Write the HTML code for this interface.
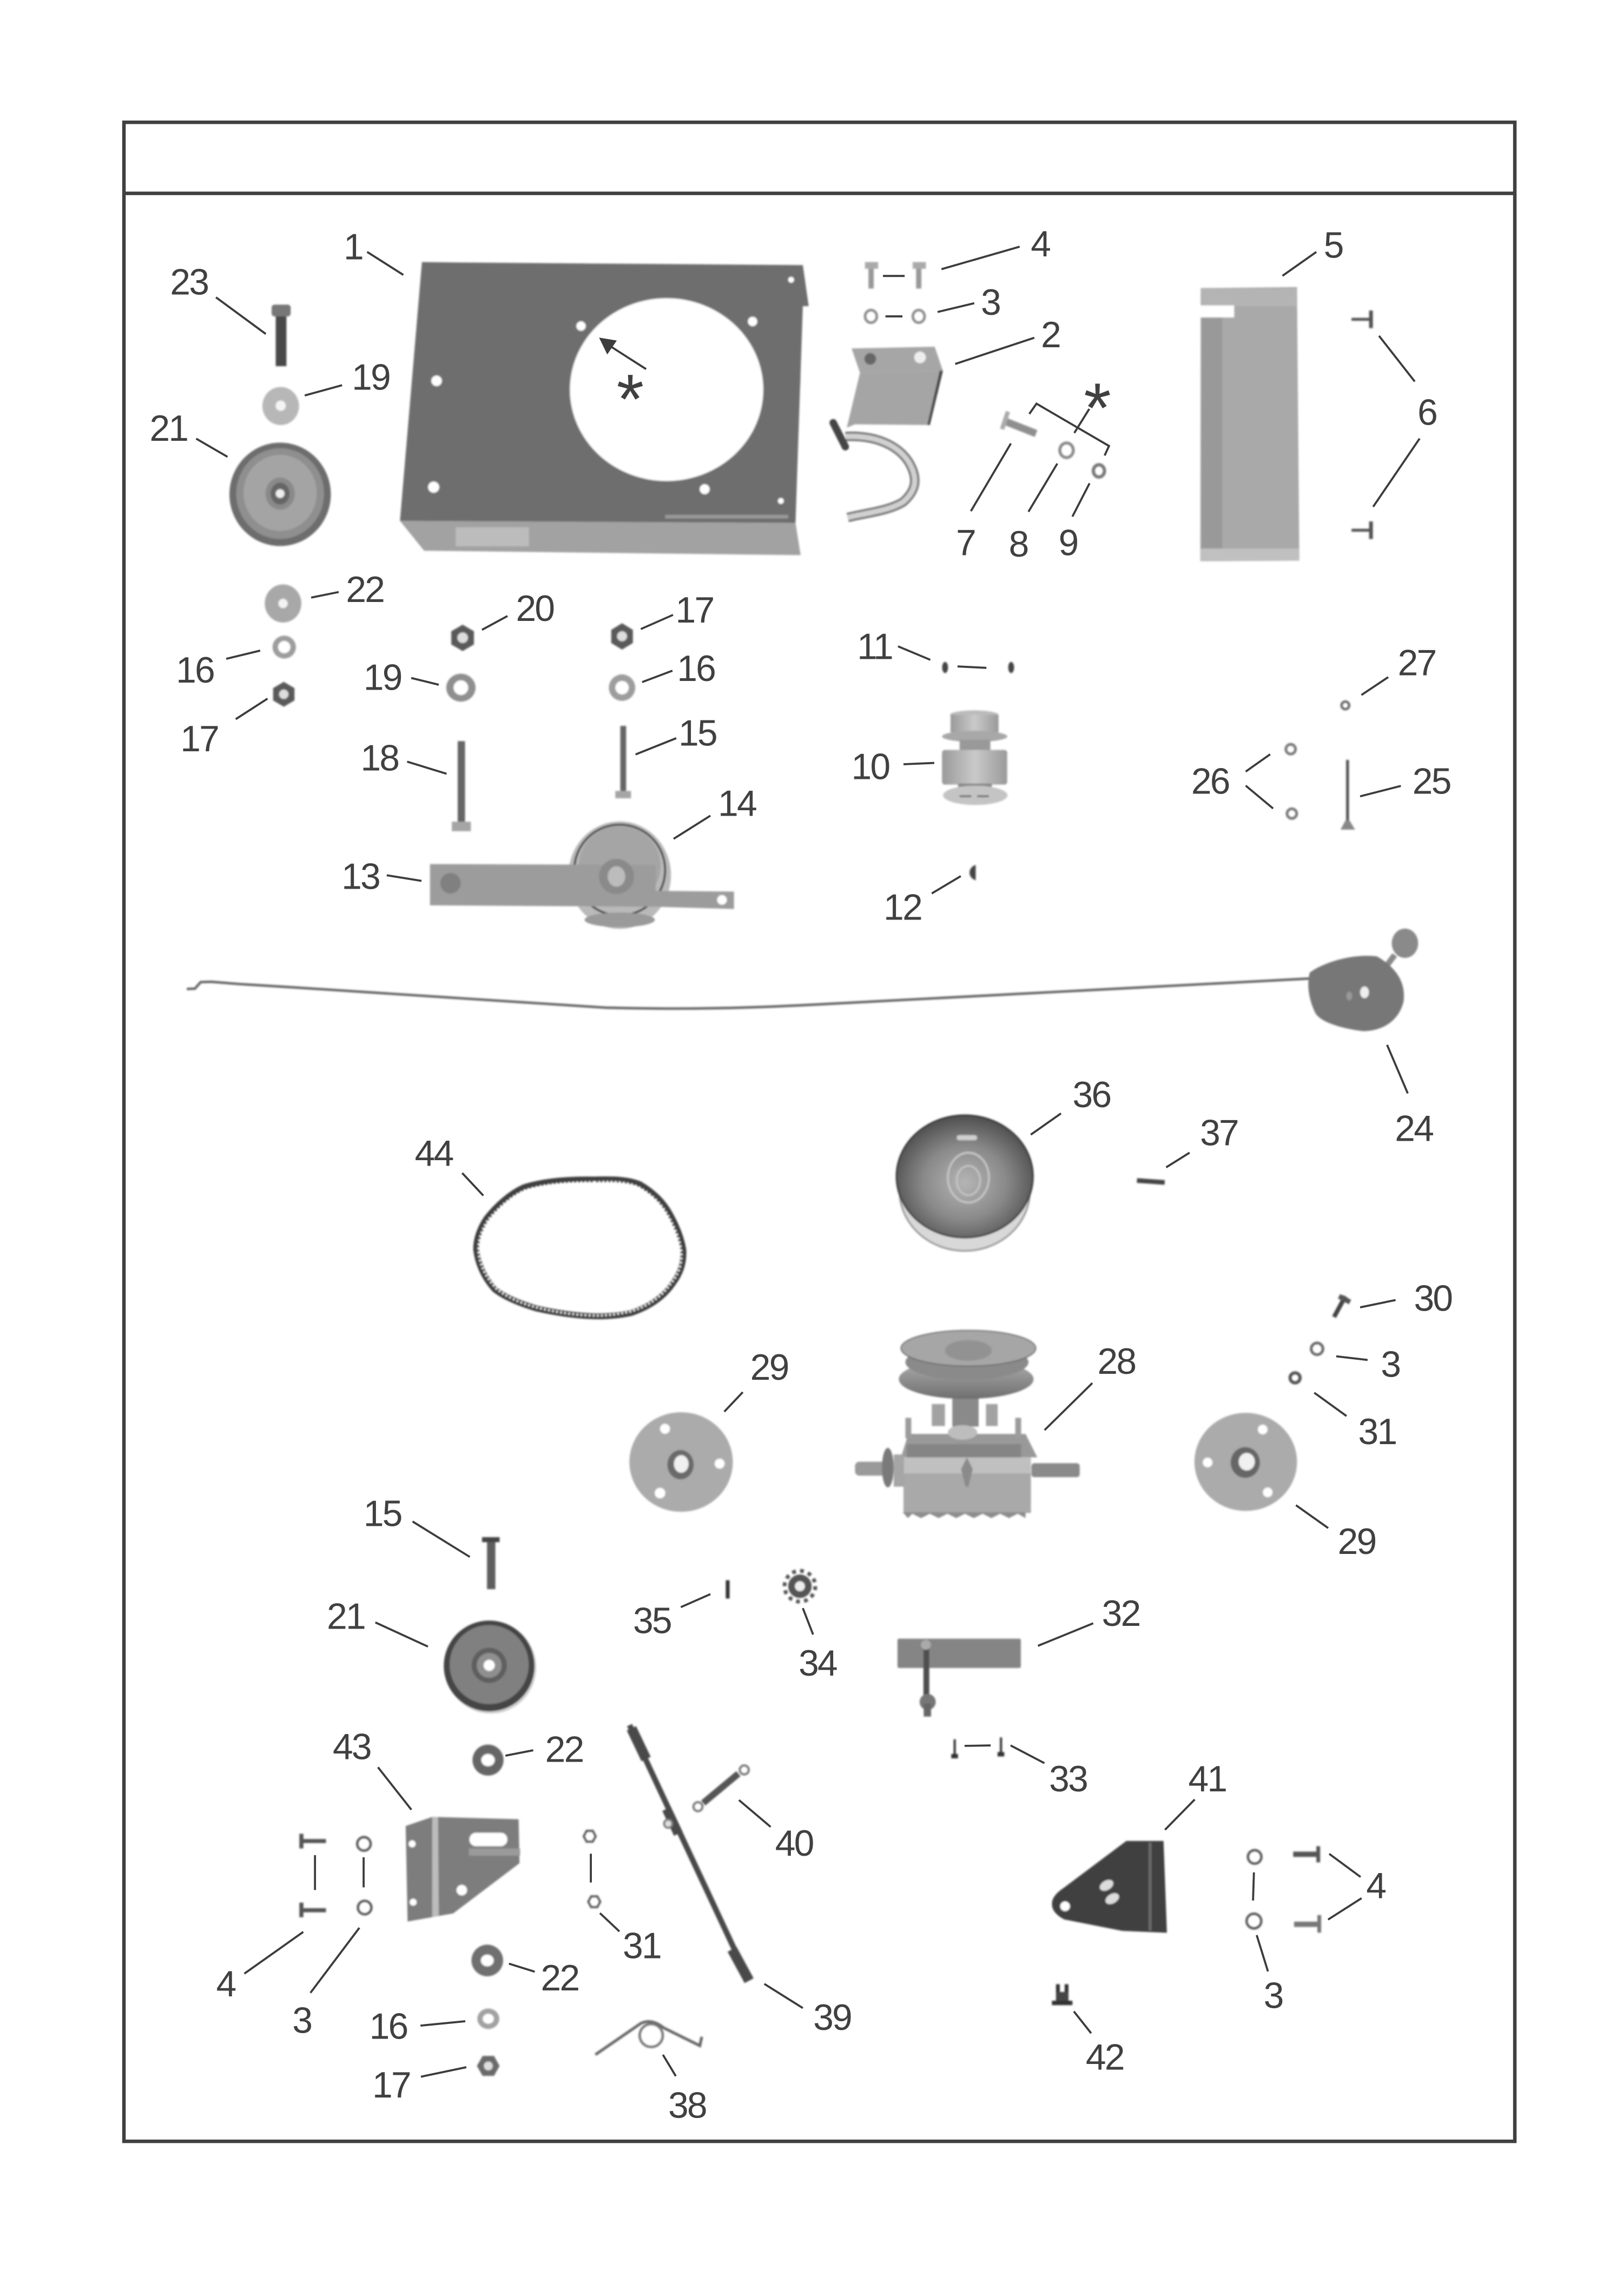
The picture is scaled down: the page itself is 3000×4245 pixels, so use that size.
<!DOCTYPE html>
<html><head><meta charset="utf-8"><title>Parts diagram</title>
<style>
html,body{margin:0;padding:0;background:#fff}
svg{display:block}
text{font-family:"Liberation Sans",sans-serif;font-size:25px;fill:#404040;text-anchor:middle;letter-spacing:-1px}
.st{font-size:48px;letter-spacing:0}
.l line,.l polyline{stroke:#3c3c3c;stroke-width:1.4;fill:none}
</style></head><body>
<svg xmlns="http://www.w3.org/2000/svg" width="3000" height="4245" viewBox="0 0 1107.83 1567.6">
<defs>
<filter id="b" x="-5%" y="-5%" width="110%" height="110%"><feGaussianBlur stdDeviation="0.55"/></filter>
<radialGradient id="g36" cx="50%" cy="55%" r="55%"><stop offset="0" stop-color="#b5b5b5"/><stop offset=".55" stop-color="#8a8a8a"/><stop offset="1" stop-color="#4f4f4f"/></radialGradient>
<linearGradient id="gm" x1="0" x2="1" y1="0" y2="0"><stop offset="0" stop-color="#9a9a9a"/><stop offset=".5" stop-color="#cacaca"/><stop offset="1" stop-color="#9a9a9a"/></linearGradient>
<linearGradient id="gp" x1="0" x2="0" y1="0" y2="1"><stop offset="0" stop-color="#b0b0b0"/><stop offset="1" stop-color="#6f6f6f"/></linearGradient>
</defs>
<rect width="1107.83" height="1567.6" fill="#fff"/>
<rect x="84.6" y="83.5" width="949.4" height="1378.5" fill="none" stroke="#404040" stroke-width="2.4"/>
<line x1="84.6" y1="132" x2="1034" y2="132" stroke="#404040" stroke-width="2.4"/>

<g filter="url(#b)">
<!-- part 1 -->
<polygon points="273,355.6 289.5,376 546.5,379 543,357" fill="#a2a2a2"/>
<rect x="311" y="360" width="50" height="13" fill="#bcbcbc"/>
<polygon points="288,179 548,181 552,209 548,209 543,357 273,355.6" fill="#6e6e6e"/>
<ellipse cx="455" cy="266" rx="66" ry="62.4" fill="#fff"/>
<rect x="454" y="351.5" width="84" height="2.5" fill="#999"/>
<g fill="#fff"><circle cx="396.6" cy="222.6" r="3.2"/><circle cx="513.7" cy="219.5" r="3.2"/><circle cx="298" cy="260" r="3.6"/><circle cx="296" cy="332.6" r="3.8"/><circle cx="481" cy="334" r="3.4"/><circle cx="540" cy="191" r="2"/><circle cx="533" cy="342" r="2"/></g>
<!-- 23 -->
<rect x="188.2" y="212" width="7.3" height="38" fill="#4a4a4a"/><rect x="185.4" y="208" width="13" height="8" rx="2" fill="#777"/>
<!-- washers left column -->
<ellipse cx="191.6" cy="277.2" rx="12.5" ry="13" fill="#b7b7b7"/><circle cx="191.6" cy="277" r="3.5" fill="#f4f4f4"/>
<ellipse cx="191.2" cy="337.5" rx="34.6" ry="35.3" fill="#6d6d6d"/><ellipse cx="191.2" cy="337" rx="30" ry="31" fill="#8f8f8f"/><ellipse cx="191.2" cy="336.5" rx="25" ry="26" fill="#a4a4a4"/><ellipse cx="191.2" cy="337" rx="10" ry="11" fill="#8a8a8a"/><ellipse cx="191.2" cy="337" rx="6.5" ry="7.5" fill="#666"/><circle cx="191.2" cy="337" r="3" fill="#eee"/>
<ellipse cx="193.2" cy="412" rx="12.5" ry="13" fill="#a8a8a8"/><circle cx="193.2" cy="412" r="3.2" fill="#f4f4f4"/>
<ellipse cx="194" cy="441.8" rx="8" ry="7.8" fill="#9d9d9d"/><circle cx="194" cy="441.8" r="4.2" fill="#fff"/>
<polygon points="193.7,465.5 201,469.8 201,478.2 193.7,482.5 186.4,478.2 186.4,469.8" fill="#5a5a5a"/><circle cx="193.7" cy="474" r="3.2" fill="#ddd"/>
<polygon points="315.8,426.5 323.5,431 323.5,440 315.8,444.5 308,440 308,431" fill="#5a5a5a"/><circle cx="315.8" cy="435.4" r="3.6" fill="#ddd"/>
<ellipse cx="314.6" cy="469.5" rx="10" ry="9.5" fill="#8f8f8f"/><circle cx="314.6" cy="469.5" r="5" fill="#fff"/>
<polygon points="424.6,425.5 432,430 432,439 424.6,443.5 417.2,439 417.2,430" fill="#5a5a5a"/><circle cx="424.6" cy="434.4" r="3.4" fill="#ddd"/>
<ellipse cx="424.6" cy="469.5" rx="9" ry="9" fill="#9d9d9d"/><circle cx="424.6" cy="469.5" r="4.6" fill="#fff"/>
<!-- 18 15 -->
<rect x="312.4" y="506" width="5" height="57" fill="#666"/><rect x="308.4" y="561" width="13" height="6.5" fill="#a5a5a5"/>
<rect x="423.4" y="495.6" width="4" height="46" fill="#666"/><rect x="420" y="540" width="10.7" height="5" fill="#a5a5a5"/>
<!-- 14 13 -->
<ellipse cx="423" cy="597.5" rx="35" ry="36.7" fill="#b9b9b9"/><ellipse cx="423" cy="594" rx="31" ry="31" fill="none" stroke="#444" stroke-width="1.4"/><ellipse cx="423" cy="591" rx="28" ry="27" fill="#a5a5a5"/>
<ellipse cx="423" cy="628" rx="24" ry="5" fill="#9a9a9a"/>
<polygon points="293.5,589.9 447.5,590.5 447.5,608.2 501,608.7 501,620.6 447.5,619.1 293.5,618.1" fill="#9c9c9c"/>
<circle cx="492.8" cy="614.4" r="3.3" fill="#fff"/><circle cx="307.5" cy="603" r="7" fill="#808080"/><ellipse cx="420.8" cy="598.4" rx="12" ry="12" fill="#8a8a8a"/><ellipse cx="420.8" cy="598.4" rx="6" ry="7" fill="#bcbcbc"/>
<!-- 4 3 -->
<g fill="#999"><rect x="592.8" y="183" width="3.6" height="14"/><rect x="625.3" y="183" width="3.6" height="14"/><rect x="590.4" y="179" width="9" height="4.5" fill="#aaa"/><rect x="623" y="179" width="9" height="4.5" fill="#aaa"/></g>
<g fill="none" stroke="#888" stroke-width="1.7"><ellipse cx="594.5" cy="216" rx="4" ry="4.3"/><ellipse cx="627.1" cy="216" rx="4" ry="4.3"/></g>
<!-- part 2 -->
<path d="M577,298 C596,297 612,303 620,315 C628,328 624,336 616.5,342.7 C606,349 592,350 578.6,353.3" fill="none" stroke="#777" stroke-width="6.5"/>
<path d="M577,298 C596,297 612,303 620,315 C628,328 624,336 616.5,342.7 C606,349 592,350 578.6,353.3" fill="none" stroke="#d0d0d0" stroke-width="3.6"/>
<line x1="568.7" y1="288.6" x2="577" y2="305" stroke="#444" stroke-width="5" stroke-linecap="round"/>
<polygon points="581.3,237.9 638,236.7 643.6,253.2 587,254.5" fill="#a6a6a6"/><polygon points="587,254.5 643.6,253.2 634.7,290.2 583.6,289.7 578,292" fill="#a5a5a5"/>
<polygon points="643.6,253.2 634.7,290.2 633,290 641.5,253" fill="#444"/>
<circle cx="594" cy="245" r="4" fill="#666"/><circle cx="628" cy="244" r="4" fill="#eee"/>
<!-- 7 8 9 -->
<line x1="687" y1="288" x2="707.2" y2="296" stroke="#8f8f8f" stroke-width="5"/><line x1="688" y1="281" x2="684" y2="293" stroke="#aaa" stroke-width="3"/>
<ellipse cx="728" cy="307.4" rx="4.6" ry="5" fill="none" stroke="#888" stroke-width="2"/><ellipse cx="750.1" cy="321.5" rx="3.8" ry="4.2" fill="none" stroke="#777" stroke-width="2.2"/>
<!-- part 5 -->
<polygon points="819.6,196.7 885.3,196 886.9,382.8 819.3,383.2" fill="#a9a9a9"/>
<rect x="820" y="197" width="14.2" height="178" fill="#999"/>
<rect x="820" y="197" width="65" height="12" fill="#b4b4b4"/>
<polygon points="819.6,374.5 886.5,374.5 886.9,382.8 819.3,383.2" fill="#c0c0c0"/>
<rect x="819" y="208.5" width="23.4" height="8.2" fill="#fff"/>
<!-- 6 -->
<rect x="922.5" y="217" width="13" height="2" fill="#555"/><rect x="934.5" y="212" width="2.6" height="12" fill="#555"/>
<rect x="922.5" y="361" width="13" height="2" fill="#555"/><rect x="934.5" y="356" width="2.6" height="12" fill="#555"/>
<!-- 10 -->
<ellipse cx="665" cy="488" rx="16.5" ry="3" fill="#bbb"/><rect x="648.8" y="488" width="32.8" height="12" fill="url(#gm)"/>
<ellipse cx="665.3" cy="502.8" rx="22.3" ry="3.8" fill="#a8a8a8"/><rect x="655" y="505" width="21" height="8" fill="#999"/>
<rect x="643" y="512" width="44.5" height="23.7" rx="2" fill="url(#gm)"/><rect x="654" y="535" width="23" height="6" fill="#888"/>
<ellipse cx="665.7" cy="543" rx="22" ry="6.6" fill="#c4c4c4"/><rect x="655" y="543" width="8" height="1.2" fill="#666"/><rect x="667" y="543" width="8" height="1.2" fill="#666"/>
<ellipse cx="645.1" cy="455.7" rx="2" ry="3.8" fill="#444"/><ellipse cx="690.2" cy="455.7" rx="2" ry="3.8" fill="#444"/>
<path d="M666,590.5 A6,5.5 0 0 0 666,601 Z" fill="#444"/>
<circle cx="918.3" cy="481.6" r="2.6" fill="none" stroke="#666" stroke-width="1.6"/>
<circle cx="881" cy="511.5" r="3.3" fill="none" stroke="#777" stroke-width="1.8"/><circle cx="881.8" cy="555.5" r="3.3" fill="none" stroke="#777" stroke-width="1.8"/>
<rect x="918.8" y="518.8" width="2" height="44" fill="#555"/><polygon points="918.5,560 921,560 925,566.4 915,566.4" fill="#888"/>
<!-- 24 cable -->
<path d="M127.5,675.2 L133,675 L137,670.5 L144.3,670.3 L162.7,671.8 C250,677 340,684 413.8,688 C470,689.5 515,688 553.9,686 L893.8,668.1" fill="none" stroke="#666" stroke-width="1.7"/>
<ellipse cx="959" cy="644" rx="9" ry="10" fill="#8a8a8a"/><line x1="952" y1="652" x2="946" y2="660" stroke="#8a8a8a" stroke-width="4"/>
<path d="M894,664 C905,656 925,651 940,653 C952,660 960,670 958,684 C955,696 945,704 930,704 C915,702 902,698 898,692 C893,682 892,672 894,664 Z" fill="#777"/>
<ellipse cx="931.4" cy="677.5" rx="3" ry="4" fill="#eee"/><ellipse cx="921" cy="680" rx="2" ry="3" fill="#999"/>
<!-- 36 -->
<ellipse cx="658.5" cy="813" rx="44.5" ry="41" fill="#d8d8d8" stroke="#999" stroke-width="1.2"/>
<ellipse cx="658.5" cy="803.2" rx="46.6" ry="41.8" fill="url(#g36)" stroke="#333" stroke-width="1"/>
<ellipse cx="661" cy="804" rx="14" ry="17" fill="none" stroke="#c5c5c5" stroke-width="1.4"/><ellipse cx="661" cy="806" rx="8" ry="10" fill="none" stroke="#c5c5c5" stroke-width="1.2"/>
<rect x="653" y="775" width="14" height="3.5" rx="1.7" fill="#cfcfcf"/>
<!-- 37 -->
<rect x="776" y="805" width="19" height="3.2" fill="#444" transform="rotate(4 785 807)"/>
<!-- 44 belt -->
<path id="belt" d="M405.6,805.3 C418,805 428,805 436.7,808.5 C446,814 452,820 456.5,827.5 C462,837 465,845 466.4,853 C467,863 464,870 459.3,876.3 C452,887 441,893 431,896.4 C421,898.6 412,899 402.8,898.6 C390,898 378,896 366,893.3 C355,890 345,886 337.8,880.5 C330,872 326,862 325,853 C325,845 328,838 332.1,831.8 C339,823 348,815 357.6,810.6 C372,806 390,805 405.6,805.3 Z" fill="none" stroke="#3f3f3f" stroke-width="4"/>
<path d="M405.6,806.5 C418,806 428,806 436,810 C445,815 451,821 455.5,828.5 C461,838 464,846 465,853 C466,862 463,870 458,875.5 C451,886 440,892 430,895 C420,897 412,898 402.8,897.5 C390,897 378,895 366,892 C355,889 346,885 339,879.5 C331,871 327,862 326.5,853 C326.5,845 329,839 333,832.5 C340,824 349,816 358.5,812 C372,807.5 390,806.5 405.6,806.5 Z" fill="none" stroke="#fff" stroke-width="1.3" stroke-dasharray="1.2 1.6" transform="translate(0,0.6)"/>
<!-- 30 3 31 -->
<line x1="918.3" y1="885" x2="910.6" y2="899.2" stroke="#444" stroke-width="3"/>
<line x1="914" y1="885" x2="921.5" y2="889" stroke="#555" stroke-width="3.4"/>
<circle cx="899" cy="920.9" r="4" fill="none" stroke="#666" stroke-width="1.8"/>
<circle cx="884" cy="940.7" r="3.4" fill="none" stroke="#555" stroke-width="2.2"/>
<!-- 29 left -->
<ellipse cx="464.9" cy="998.2" rx="35.3" ry="34" fill="#ababab"/>
<g fill="#fff"><circle cx="453.9" cy="975.5" r="3.4"/><circle cx="491.2" cy="999.3" r="3.4"/><circle cx="450.5" cy="1019.4" r="3.6"/></g>
<ellipse cx="464.5" cy="1000" rx="9" ry="10" fill="#6a6a6a"/><ellipse cx="465" cy="999.5" rx="5" ry="6" fill="#f0f0f0"/>
<!-- 29 right -->
<ellipse cx="850.3" cy="998.1" rx="35" ry="33.5" fill="#ababab"/>
<g fill="#fff"><circle cx="861.9" cy="976" r="3.3"/><circle cx="824.3" cy="998.5" r="3.3"/><circle cx="865.3" cy="1018.9" r="3.3"/></g>
<ellipse cx="850" cy="998.5" rx="10" ry="10.5" fill="#666"/><ellipse cx="851" cy="998" rx="5.5" ry="6" fill="#f0f0f0"/>
<!-- 28 gearbox -->
<rect x="650" y="950" width="18" height="24" fill="#8a8a8a"/><rect x="636" y="958.6" width="9" height="15" fill="#a2a2a2"/><rect x="673" y="958.6" width="8" height="15" fill="#a2a2a2"/>
<ellipse cx="659.5" cy="941.6" rx="46" ry="13.5" fill="url(#gp)"/><ellipse cx="660" cy="930" rx="42" ry="12" fill="#8a8a8a"/><ellipse cx="661" cy="920.5" rx="46" ry="12.2" fill="#a6a6a6" stroke="#666" stroke-width=".7"/><ellipse cx="661" cy="922" rx="16" ry="7" fill="#929292"/>
<polygon points="620,979 700,979 708,995 615,995" fill="#999"/>
<rect x="618" y="968" width="4" height="14" fill="#9c9c9c"/><rect x="693" y="968" width="4" height="14" fill="#9c9c9c"/><ellipse cx="657" cy="978" rx="10" ry="5" fill="#bdbdbd"/>
<rect x="619" y="986" width="78" height="10" fill="#858585"/>
<rect x="616.7" y="995" width="87" height="12" fill="#c0c0c0"/>
<rect x="616.7" y="1006" width="87" height="27" fill="#a9a9a9"/>
<path d="M616.7,1033 l3,3.5 l3,-3 l6,3 l6,-3 l6,3 l6,-3 l6,3 l6,-3 l6,3 l6,-3 l6,3 l6,-3 l6,3 l6,-3 l5.3,3 v-4 h-84 z" fill="#8d8d8d"/>
<rect x="704" y="999" width="33" height="9.5" rx="2" fill="#8a8a8a"/>
<rect x="583.6" y="998" width="24" height="9.5" rx="3" fill="#9a9a9a"/><ellipse cx="606" cy="1002" rx="4" ry="13.5" fill="#7a7a7a"/><rect x="610" y="993" width="7" height="22" fill="#a6a6a6"/>
<polygon points="656,1003 660,995 664,1003 661,1015 659,1015" fill="#8b8b8b"/>
<!-- 15 lower -->
<rect x="332.4" y="1052" width="5.7" height="33" fill="#5e5e5e"/><rect x="329" y="1049.5" width="12" height="3.4" fill="#444"/>
<!-- 21 lower -->
<ellipse cx="335" cy="1138.5" rx="31" ry="31.5" fill="#d0d0d0"/><ellipse cx="333.9" cy="1137.4" rx="31" ry="31" fill="#454545"/><ellipse cx="333.9" cy="1136.5" rx="27" ry="27" fill="#808080"/><ellipse cx="333.9" cy="1137" rx="12" ry="12" fill="#5e5e5e"/><ellipse cx="333.9" cy="1137" rx="8.5" ry="8.5" fill="#8f8f8f"/><circle cx="333.9" cy="1137" r="3.8" fill="#fff"/>
<!-- 22 -->
<circle cx="333.1" cy="1201.7" r="10.6" fill="#666"/><ellipse cx="333.1" cy="1201.7" rx="4.6" ry="4.2" fill="#fff"/>
<circle cx="332.6" cy="1338.5" r="10.8" fill="#707070"/><ellipse cx="332.6" cy="1338.5" rx="4.4" ry="4" fill="#fff"/>
<ellipse cx="333.3" cy="1378.3" rx="7.5" ry="7" fill="#a2a2a2"/><ellipse cx="333.3" cy="1378.3" rx="3.8" ry="3.4" fill="#fff"/>
<polygon points="325.5,1410.5 329.4,1403.7 337.2,1403.7 341,1410.5 337.2,1417.3 329.4,1417.3" fill="#6a6a6a"/><circle cx="333.3" cy="1410.5" r="3" fill="#ddd"/>
<!-- 43 bracket -->
<polygon points="276.9,1246.7 295,1240.5 354,1242.1 354.6,1272.1 309.3,1306.4 278.2,1311.9" fill="#7d7d7d"/>
<polygon points="295,1240.5 299,1240.6 299.5,1308 295,1309" fill="#bcbcbc"/>
<rect x="320.4" y="1251.3" width="25.9" height="9.2" rx="4.5" fill="#fff"/>
<rect x="320" y="1262" width="35" height="5" fill="#9a9a9a"/>
<g fill="#fff"><circle cx="281.3" cy="1258.9" r="2.4"/><circle cx="282" cy="1298.7" r="2.4"/><circle cx="315.2" cy="1290.5" r="3.6"/></g>
<!-- left bolts -->
<rect x="206" y="1255.6" width="16.5" height="2.8" fill="#555"/><rect x="204.3" y="1252" width="2.8" height="10" fill="#555"/>
<rect x="206" y="1302.8" width="16.5" height="2.8" fill="#555"/><rect x="204.3" y="1299" width="2.8" height="10" fill="#555"/>
<g fill="none" stroke="#555" stroke-width="1.6"><circle cx="248.4" cy="1258.9" r="4.6"/><circle cx="248.9" cy="1302.4" r="4.6"/></g>
<g fill="none" stroke="#555" stroke-width="1.4"><polygon points="398.4,1253.7 400.4,1250 404.6,1250 406.6,1253.7 404.6,1257.4 400.4,1257.4"/><polygon points="401.5,1298.4 403.5,1294.7 407.7,1294.7 409.7,1298.4 407.7,1302.1 403.5,1302.1"/></g>
<!-- 35 34 -->
<rect x="495.4" y="1078.9" width="2.6" height="12.5" fill="#333"/>
<circle cx="546" cy="1083" r="8" fill="#555"/><circle cx="546" cy="1083" r="10.5" fill="none" stroke="#555" stroke-width="2.6" stroke-dasharray="2.6 2.9"/><circle cx="546" cy="1083" r="3.4" fill="#eee"/>
<!-- 39 40 38 -->
<line x1="429.7" y1="1177.8" x2="511.3" y2="1352.3" stroke="#4a4a4a" stroke-width="3.8"/>
<line x1="431" y1="1180" x2="441" y2="1201" stroke="#4a4a4a" stroke-width="7"/><line x1="499.7" y1="1330.9" x2="511.3" y2="1352.3" stroke="#4a4a4a" stroke-width="7"/><line x1="455" y1="1235" x2="463" y2="1252" stroke="#4a4a4a" stroke-width="6.5"/>
<circle cx="456.1" cy="1245.1" r="2.8" fill="#ddd" stroke="#777" stroke-width="1.4"/>
<line x1="480" y1="1231" x2="504" y2="1211" stroke="#555" stroke-width="4.5"/>
<circle cx="476.4" cy="1233.5" r="3" fill="#fff" stroke="#777" stroke-width="1.6"/><circle cx="508" cy="1208.4" r="3" fill="#fff" stroke="#777" stroke-width="1.6"/>
<path d="M406.4,1402.8 L437.5,1381.4 Q445,1378 453,1384.5 L477.7,1396.7 L479,1390.6" fill="none" stroke="#666" stroke-width="1.9"/>
<circle cx="444.5" cy="1389.7" r="7.8" fill="#fff" stroke="#777" stroke-width="1.8"/>
<!-- 32 33 -->
<rect x="612.6" y="1118.8" width="84.2" height="20" rx="1" fill="#858585"/>
<rect x="630.3" y="1122.7" width="4" height="40" fill="#4f4f4f"/><circle cx="632" cy="1123" r="3.4" fill="#aaa"/>
<circle cx="633.2" cy="1162" r="5.5" fill="#777"/><rect x="630.5" y="1163" width="5" height="9" fill="#666"/>
<rect x="650.9" y="1187.5" width="1.5" height="11" fill="#333"/><rect x="649.3" y="1197.5" width="4.6" height="3" fill="#333"/>
<rect x="682.5" y="1186.2" width="1.5" height="11" fill="#333"/><rect x="680.9" y="1196.2" width="4.6" height="3" fill="#333"/>
<!-- 41 -->
<path d="M768.8,1256.9 L794.2,1256.9 L796.5,1319.6 L766,1318.3 L726.4,1310.5 Q716,1305 718.5,1297 Q720,1293 726,1289 Z" fill="#3f3f3f"/>
<rect x="784" y="1258" width="2" height="60" fill="#6c6c6c"/>
<circle cx="727" cy="1301.5" r="3.3" fill="#fff"/><ellipse cx="755.3" cy="1287.2" rx="5" ry="3.2" fill="#dcdcdc" transform="rotate(-30 755.3 1287.2)"/><ellipse cx="759.2" cy="1296.3" rx="5" ry="3.2" fill="#dcdcdc" transform="rotate(-30 759.2 1296.3)"/>
<g fill="none" stroke="#555" stroke-width="1.6"><circle cx="856.4" cy="1267.8" r="4.6"/><circle cx="855.9" cy="1311.6" r="5"/></g>
<rect x="882.7" y="1264.2" width="16" height="3.6" fill="#555"/><rect x="898.5" y="1260.5" width="2.6" height="11" fill="#555"/>
<rect x="883.3" y="1312" width="16" height="3.6" fill="#777"/><rect x="899.2" y="1307.5" width="2.6" height="12" fill="#777"/>
<rect x="720.8" y="1354.7" width="2.6" height="11.5" fill="#333"/><rect x="726.7" y="1354.7" width="2.6" height="11.5" fill="#333"/><rect x="721" y="1360" width="8" height="6" fill="#444"/><rect x="718" y="1366" width="14" height="3" fill="#333"/>
</g>

<!-- connector lines -->
<g class="l">
<line x1="250.6" y1="172" x2="275.3" y2="187.7"/><line x1="147.4" y1="203" x2="181.4" y2="228"/><line x1="208" y1="270" x2="233.5" y2="263"/><line x1="133.9" y1="299.5" x2="155.3" y2="311.9"/><line x1="212.4" y1="408" x2="231.2" y2="404.2"/>
<line x1="329" y1="430" x2="346.4" y2="420.6"/><line x1="437.4" y1="429.5" x2="459.4" y2="419.8"/><line x1="154.4" y1="449.8" x2="177.6" y2="444.2"/><line x1="280.7" y1="462.9" x2="299.5" y2="467.5"/><line x1="438.3" y1="465.7" x2="459" y2="457.9"/><line x1="160.9" y1="491" x2="182.6" y2="477"/><line x1="433.8" y1="515.1" x2="461.6" y2="504"/><line x1="277.9" y1="520" x2="304.8" y2="528.3"/><line x1="459.8" y1="572.7" x2="484.9" y2="556.9"/><line x1="264" y1="597.6" x2="287.7" y2="601.4"/>
<line x1="642.6" y1="183.8" x2="696" y2="168.4"/><line x1="602.7" y1="188.4" x2="617.5" y2="188.4"/><line x1="640" y1="213" x2="665" y2="207"/><line x1="604.4" y1="216" x2="616" y2="216"/><line x1="652" y1="248.5" x2="706" y2="230.6"/>
<polyline points="702.6,282.6 707.5,275.6 757,304.5 754,311"/><line x1="733.3" y1="295.6" x2="743.5" y2="279.2"/><line x1="662.7" y1="349" x2="690" y2="302.8"/><line x1="702" y1="349.4" x2="721.7" y2="316.5"/><line x1="732" y1="352.7" x2="743.7" y2="330"/>
<line x1="875.4" y1="188.3" x2="898.5" y2="172"/><line x1="941.3" y1="229.3" x2="965.7" y2="260.5"/><line x1="969" y1="299.4" x2="937.3" y2="346"/>
<line x1="613" y1="441.3" x2="635" y2="450.5"/><line x1="653.6" y1="455" x2="673.3" y2="456"/><line x1="616.7" y1="521.8" x2="637.7" y2="520.9"/><line x1="636" y1="610" x2="655.8" y2="598.2"/><line x1="929.3" y1="474.5" x2="947.6" y2="462.3"/><line x1="850.3" y1="526.8" x2="867" y2="515"/><line x1="850.3" y1="536.4" x2="869" y2="552"/><line x1="928.4" y1="543.7" x2="956.2" y2="536.6"/><line x1="946.8" y1="713.4" x2="960.9" y2="746.5"/><line x1="703.6" y1="774.7" x2="724.2" y2="760.2"/>
<line x1="796" y1="797" x2="812" y2="787"/>
<line x1="315.5" y1="800.9" x2="329.9" y2="816.3"/><line x1="494.4" y1="963.8" x2="507" y2="950.5"/><line x1="928.4" y1="892.6" x2="952.6" y2="887.6"/><line x1="912.1" y1="926" x2="933.5" y2="928.5"/><line x1="897.1" y1="950.9" x2="919.1" y2="966.8"/><line x1="713" y1="976.4" x2="745.6" y2="944.3"/><line x1="884.6" y1="1027.7" x2="906.6" y2="1043.3"/><line x1="708.5" y1="1123.7" x2="746.2" y2="1108.3"/>
<line x1="281.6" y1="1038.8" x2="320.7" y2="1063"/><line x1="256.2" y1="1107.7" x2="292.1" y2="1124.2"/><line x1="464.7" y1="1097.3" x2="484.9" y2="1088.4"/><line x1="548" y1="1098" x2="555" y2="1116"/><line x1="345" y1="1198.7" x2="364" y2="1195"/><line x1="258" y1="1206.6" x2="280.8" y2="1235.6"/>
<line x1="215" y1="1266.6" x2="215" y2="1290.4"/><line x1="248.2" y1="1268" x2="248.2" y2="1288.6"/><line x1="403.3" y1="1265.6" x2="403.3" y2="1285.3"/><line x1="409.5" y1="1306.2" x2="422.8" y2="1318.7"/><line x1="166.8" y1="1347.5" x2="207" y2="1319"/><line x1="211.9" y1="1360.6" x2="245.3" y2="1316.2"/><line x1="347.4" y1="1340.7" x2="365" y2="1346.2"/><line x1="287" y1="1383" x2="317.6" y2="1380"/><line x1="287.3" y1="1417.9" x2="318.3" y2="1411.4"/><line x1="452.5" y1="1402.9" x2="461.3" y2="1417.5"/><line x1="521.7" y1="1354.5" x2="548" y2="1371"/><line x1="504.4" y1="1229" x2="526" y2="1247.3"/>
<line x1="658.4" y1="1192" x2="676.2" y2="1191.7"/><line x1="689.8" y1="1191.7" x2="712.9" y2="1203.8"/><line x1="795.2" y1="1249.3" x2="815.5" y2="1228.6"/><line x1="855.9" y1="1278.4" x2="855.3" y2="1297.6"/><line x1="907.3" y1="1265.7" x2="928.7" y2="1281.5"/><line x1="906.5" y1="1310.6" x2="929.4" y2="1296"/><line x1="857.8" y1="1321.2" x2="865.5" y2="1346"/><line x1="733" y1="1373.3" x2="744.8" y2="1388.2"/>
<line x1="441" y1="252" x2="416" y2="236"/>
</g>
<polygon points="408.9,230.5 421,232.5 414.5,242" fill="#3c3c3c"/>

<!-- asterisks -->
<text class="st" x="430.2" y="289">*</text>
<text class="st" x="749.1" y="295">*</text>

<!-- labels -->
<text x="241" y="177">1</text><text x="129" y="201">23</text><text x="253" y="266">19</text><text x="115" y="301">21</text><text x="249" y="411">22</text><text x="365" y="424">20</text><text x="474" y="425">17</text><text x="133" y="466">16</text><text x="261" y="471">19</text><text x="475" y="465">16</text><text x="136" y="513">17</text><text x="476" y="509">15</text><text x="259" y="526">18</text><text x="503" y="557">14</text><text x="246" y="607">13</text>
<text x="710" y="175">4</text><text x="676" y="215">3</text><text x="717" y="237">2</text><text x="910" y="176">5</text><text x="974" y="290">6</text><text x="659" y="379">7</text><text x="695" y="380">8</text><text x="729" y="379">9</text>
<text x="597" y="450">11</text><text x="594" y="532">10</text><text x="616" y="628">12</text><text x="967" y="461">27</text><text x="826" y="542">26</text><text x="977" y="542">25</text><text x="965" y="779">24</text><text x="745" y="756">36</text><text x="832" y="782">37</text><text x="296" y="796">44</text>
<text x="978" y="895">30</text><text x="949" y="940">3</text><text x="940" y="986">31</text><text x="525" y="942">29</text><text x="762" y="938">28</text><text x="926" y="1061">29</text><text x="261" y="1042">15</text><text x="236" y="1112">21</text><text x="445" y="1115">35</text><text x="558" y="1144">34</text><text x="765" y="1110">32</text>
<text x="240" y="1201">43</text><text x="385" y="1203">22</text><text x="729" y="1223">33</text><text x="824" y="1223">41</text><text x="542" y="1267">40</text><text x="939" y="1296">4</text><text x="438" y="1337">31</text><text x="382" y="1359">22</text><text x="154" y="1363">4</text><text x="206" y="1388">3</text><text x="869" y="1371">3</text><text x="265" y="1392">16</text><text x="568" y="1386">39</text><text x="754" y="1413">42</text><text x="267" y="1432">17</text><text x="469" y="1446">38</text>
</svg>
</body></html>
